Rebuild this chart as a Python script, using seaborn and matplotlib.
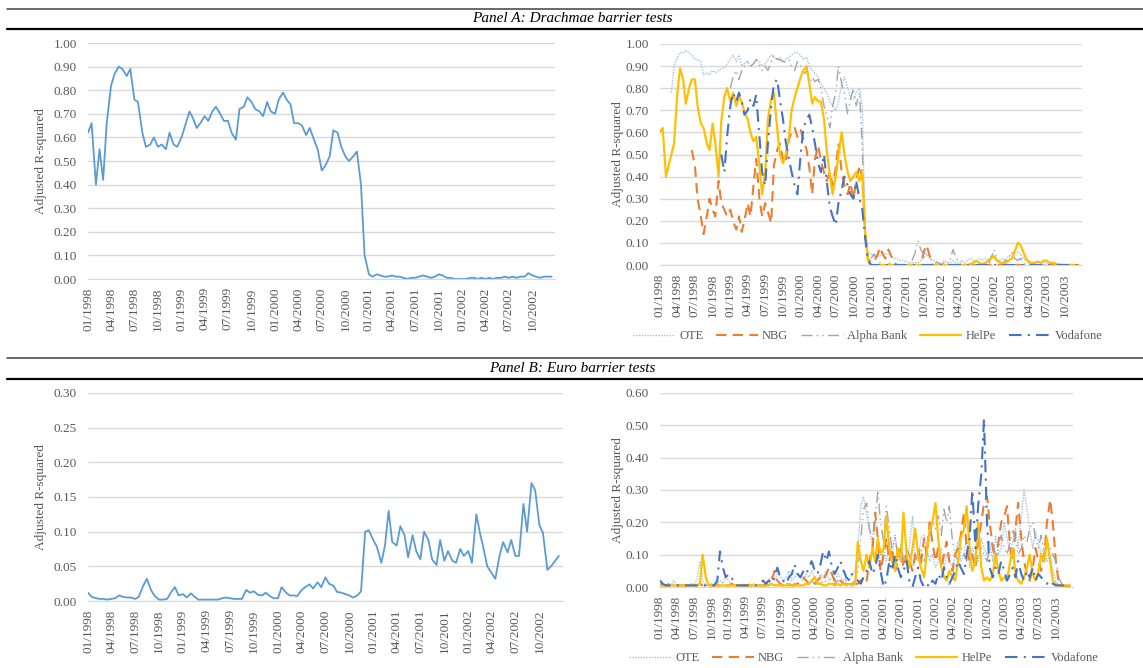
import numpy as np
import pandas as pd
import matplotlib as mpl
mpl.use("Agg")
import matplotlib.pyplot as plt
import matplotlib.dates as mdates
from matplotlib.lines import Line2D
import seaborn as sns

sns.set_style("white")
mpl.rcParams['font.family'] = ['Liberation Serif', 'DejaVu Serif']

nan = np.nan

# semi-monthly observation dates
dates_5y = pd.date_range('1998-01-01', periods=120, freq='SMS')
dates_6y = pd.date_range('1998-01-01', periods=144, freq='SMS')

# Panel A, left: all stocks, drachmae barrier
drachma_all = [0.62, 0.66, 0.40, 0.55, 0.42, 0.66, 0.82, 0.87, 0.90, 0.89,
               0.86, 0.89, 0.76, 0.75, 0.62, 0.56, 0.57, 0.60, 0.56, 0.57,
               0.55, 0.62, 0.57, 0.56, 0.60, 0.65, 0.71, 0.68, 0.64, 0.66,
               0.69, 0.67, 0.71, 0.73, 0.70, 0.67, 0.67, 0.62, 0.59, 0.72,
               0.73, 0.77, 0.75, 0.72, 0.71, 0.69, 0.75, 0.71, 0.70, 0.76,
               0.79, 0.76, 0.74, 0.66, 0.66, 0.65, 0.61, 0.64, 0.59, 0.55,
               0.46, 0.48, 0.52, 0.63, 0.62, 0.56, 0.52, 0.50, 0.52, 0.54,
               0.40, 0.10, 0.02, 0.01, 0.02, 0.015, 0.01, 0.01, 0.015, 0.01,
               0.01, 0.005, 0.0, 0.005, 0.005, 0.01, 0.015, 0.01, 0.005, 0.01,
               0.02, 0.015, 0.005, 0.005, 0.0, 0.0, 0.0, 0.0, 0.005, 0.005,
               0.0, 0.005, 0.0, 0.005, 0.0, 0.005, 0.005, 0.01, 0.005, 0.01,
               0.005, 0.01, 0.01, 0.025, 0.015, 0.01, 0.005, 0.01, 0.01, 0.01]

# Panel B, left: all stocks, euro barrier
euro_all = [0.012, 0.006, 0.004, 0.003, 0.003, 0.002, 0.003, 0.004, 0.008, 0.006,
            0.005, 0.005, 0.003, 0.006, 0.022, 0.032, 0.015, 0.007, 0.002, 0.002,
            0.003, 0.012, 0.020, 0.008, 0.010, 0.005, 0.011, 0.006, 0.002, 0.002,
            0.002, 0.002, 0.002, 0.002, 0.004, 0.005, 0.004, 0.003, 0.003, 0.003,
            0.016, 0.012, 0.014, 0.009, 0.008, 0.012, 0.007, 0.004, 0.004, 0.020,
            0.012, 0.008, 0.008, 0.007, 0.016, 0.020, 0.024, 0.018, 0.027, 0.020,
            0.034, 0.025, 0.022, 0.013, 0.012, 0.010, 0.008, 0.005, 0.008, 0.014,
            0.100, 0.102, 0.088, 0.078, 0.055, 0.080, 0.130, 0.085, 0.080, 0.108,
            0.095, 0.063, 0.095, 0.072, 0.060, 0.100, 0.088, 0.060, 0.052, 0.088,
            0.058, 0.072, 0.058, 0.055, 0.075, 0.065, 0.072, 0.055, 0.125, 0.098,
            0.075, 0.050, 0.040, 0.032, 0.065, 0.085, 0.070, 0.088, 0.065, 0.065,
            0.140, 0.100, 0.170, 0.160, 0.110, 0.098, 0.045, 0.050, 0.058, 0.065]

# Panel A, right: individual stocks
ote_a = [nan, nan, nan, nan, 0.78, 0.90, 0.94, 0.96, 0.96, 0.97, 0.96, 0.95,
         0.93, 0.93, 0.92, 0.86, 0.87, 0.86, 0.88, 0.87, 0.88, 0.89, 0.89, 0.91,
         0.93, 0.95, 0.92, 0.95, 0.90, 0.91, 0.92, 0.90, 0.91, 0.93, 0.92, 0.90,
         0.91, 0.93, 0.95, 0.94, 0.93, 0.94, 0.92, 0.93, 0.94, 0.95, 0.96, 0.96,
         0.95, 0.93, 0.94, 0.90, 0.88, 0.87, 0.85, 0.82, 0.80, 0.78, 0.74, 0.72,
         0.70, 0.74, 0.82, 0.85, 0.80, 0.76, 0.75, 0.78, 0.80, 0.72, 0.15, 0.06,
         0.05, 0.04, 0.05, 0.04, 0.06, 0.05, 0.05, 0.04, 0.03, 0.03, 0.02, 0.02,
         0.015, 0.01, 0.01, 0.01, 0.01, 0.02, 0.03, 0.05, 0.03, 0.02, 0.02, 0.01,
         0.01, 0.02, 0.01, 0.01, 0.02, 0.01, 0.01, 0.02, 0.01, 0.02, 0.03, 0.02,
         0.02, 0.03, 0.02, 0.03, 0.02, 0.04, 0.03, 0.02, 0.02, 0.03, 0.02, 0.04,
         0.05, 0.04, 0.06, 0.05, 0.03, 0.02, 0.02, 0.01, 0.01, 0.02, 0.01, 0.01,
         0.01, 0.005, 0.005, 0.01, 0.005, 0.005, 0.0, 0.0, 0.0, 0.0, 0.0, 0.0]
nbg_a = [nan, nan, nan, nan, nan, nan, nan, nan, nan, nan, nan, 0.52,
         0.45, 0.30, 0.22, 0.14, 0.22, 0.30, 0.25, 0.22, 0.38, 0.28, 0.25, 0.22,
         0.25, 0.20, 0.16, 0.22, 0.15, 0.20, 0.28, 0.22, 0.36, 0.48, 0.30, 0.22,
         0.28, 0.24, 0.19, 0.45, 0.52, 0.55, 0.48, 0.46, 0.57, 0.60, 0.62, 0.58,
         0.61, 0.57, 0.52, 0.44, 0.32, 0.48, 0.54, 0.47, 0.42, 0.38, 0.42, 0.36,
         0.44, 0.55, 0.42, 0.36, 0.32, 0.37, 0.30, 0.38, 0.45, 0.40, 0.15, 0.03,
         0.01, 0.02, 0.04, 0.08, 0.05, 0.03, 0.07, 0.04, 0.01, 0.0, 0.0, 0.0,
         0.0, 0.0, 0.0, 0.0, 0.0, 0.0, 0.06, 0.09, 0.04, 0.0, 0.0, 0.0,
         0.0, 0.0, 0.0, 0.0, 0.0, 0.0, 0.0, 0.0, 0.0, 0.0, 0.0, 0.0,
         0.0, 0.0, 0.0, 0.0, 0.0, 0.0, 0.0, 0.0, 0.0, 0.0, 0.0, 0.0,
         0.0, 0.0, 0.0, 0.0, 0.0, 0.0, 0.0, 0.0, 0.0, 0.0, 0.0, 0.0,
         0.0, 0.0, 0.0, 0.0, 0.0, 0.0, 0.0, 0.0, 0.0, 0.0, 0.0, 0.0]
alpha_a = [nan, nan, nan, nan, nan, nan, nan, nan, nan, nan, nan, nan,
           nan, nan, nan, nan, nan, nan, nan, nan, nan, nan, nan, nan,
           0.80, 0.85, 0.88, 0.84, 0.88, 0.90, 0.92, 0.90, 0.91, 0.93, 0.90, 0.88,
           0.90, 0.88, 0.92, 0.95, 0.93, 0.93, 0.92, 0.92, 0.93, 0.90, 0.88, 0.92,
           0.90, 0.86, 0.88, 0.82, 0.85, 0.83, 0.84, 0.80, 0.72, 0.68, 0.62, 0.72,
           0.78, 0.90, 0.82, 0.78, 0.68, 0.75, 0.80, 0.72, 0.78, 0.55, 0.12, 0.05,
           0.03, 0.05, 0.02, 0.01, 0.01, 0.0, 0.01, 0.0, 0.0, 0.0, 0.0, 0.0,
           0.0, 0.0, 0.02, 0.05, 0.11, 0.07, 0.05, 0.06, 0.03, 0.02, 0.01, 0.01,
           0.0, 0.01, 0.0, 0.02, 0.07, 0.04, 0.01, 0.0, 0.0, 0.0, 0.0, 0.0,
           0.0, 0.0, 0.0, 0.01, 0.0, 0.03, 0.07, 0.03, 0.01, 0.01, 0.02, 0.03,
           0.06, 0.03, 0.02, 0.03, 0.01, 0.0, 0.0, 0.0, 0.0, 0.0, 0.0, 0.0,
           0.0, 0.0, 0.0, 0.0, 0.0, 0.0, 0.0, 0.0, 0.0, 0.0, 0.0, 0.0]
helpe_a = [0.60, 0.62, 0.40, 0.45, 0.50, 0.55, 0.78, 0.89, 0.84, 0.73, 0.80, 0.84,
           0.84, 0.72, 0.64, 0.62, 0.55, 0.52, 0.64, 0.55, 0.40, 0.65, 0.76, 0.80,
           0.74, 0.78, 0.72, 0.76, 0.74, 0.69, 0.66, 0.60, 0.56, 0.58, 0.45, 0.32,
           0.42, 0.66, 0.75, 0.78, 0.62, 0.50, 0.46, 0.50, 0.58, 0.70, 0.76, 0.80,
           0.85, 0.88, 0.90, 0.82, 0.73, 0.76, 0.74, 0.74, 0.66, 0.52, 0.40, 0.32,
           0.40, 0.50, 0.60, 0.50, 0.42, 0.38, 0.40, 0.42, 0.38, 0.42, 0.15, 0.02,
           0.0, 0.0, 0.0, 0.0, 0.0, 0.0, 0.0, 0.0, 0.0, 0.0, 0.0, 0.0,
           0.0, 0.0, 0.0, 0.0, 0.0, 0.0, 0.0, 0.0, 0.0, 0.0, 0.0, 0.0,
           0.0, 0.0, 0.0, 0.0, 0.0, 0.0, 0.0, 0.0, 0.0, 0.0, 0.005, 0.01,
           0.02, 0.01, 0.005, 0.01, 0.02, 0.03, 0.04, 0.02, 0.01, 0.01, 0.01, 0.02,
           0.03, 0.06, 0.10, 0.09, 0.06, 0.03, 0.01, 0.01, 0.01, 0.015, 0.01, 0.02,
           0.02, 0.01, 0.01, 0.005, 0.0, 0.0, 0.0, 0.0, 0.0, 0.0, 0.0, 0.0]
vodafone_a = [nan, nan, nan, nan, nan, nan, nan, nan, nan, nan, nan, nan,
              nan, nan, nan, nan, nan, nan, nan, nan, nan, 0.50, 0.42, 0.58,
              0.72, 0.78, 0.74, 0.78, 0.74, 0.68, 0.70, 0.75, 0.72, 0.77, 0.58, 0.42,
              0.36, 0.55, 0.72, 0.82, 0.84, 0.75, 0.66, 0.56, 0.48, 0.42, 0.36, 0.32,
              0.50, 0.62, 0.66, 0.68, 0.62, 0.55, 0.46, 0.42, 0.50, 0.38, 0.26, 0.22,
              0.18, 0.28, 0.34, 0.40, 0.36, 0.32, 0.30, 0.38, 0.30, 0.26, 0.12, 0.02,
              0.0, 0.0, 0.0, 0.0, 0.0, 0.0, 0.0, 0.0, 0.0, 0.0, 0.0, 0.0,
              0.0, 0.0, 0.0, 0.0, 0.0, 0.0, 0.0, 0.0, 0.0, 0.0, 0.0, 0.0,
              0.0, 0.0, 0.0, 0.0, 0.0, 0.0, 0.0, 0.0, 0.0, 0.0, 0.0, 0.0,
              0.0, 0.0, 0.0, 0.0, 0.0, 0.0, 0.0, 0.0, 0.0, 0.0, 0.0, 0.0,
              0.0, 0.0, 0.0, 0.0, 0.0, 0.0, 0.0, 0.0, 0.0, 0.0, 0.0, 0.0,
              0.0, 0.0, 0.0, 0.0, 0.0, 0.0, 0.0, 0.0, 0.0, 0.0, 0.0, 0.0]

# Panel B, right: individual stocks
ote_b = [0.01, 0.005, 0.005, 0.01, 0.005, 0.02, 0.005, 0.005, 0.005, 0.01, 0.005, 0.01,
         0.01, 0.02, 0.08, 0.02, 0.005, 0.005, 0.01, 0.005, 0.01, 0.02, 0.01, 0.03,
         0.02, 0.01, 0.005, 0.005, 0.005, 0.01, 0.005, 0.01, 0.005, 0.01, 0.005, 0.01,
         0.005, 0.01, 0.02, 0.03, 0.02, 0.04, 0.03, 0.02, 0.03, 0.05, 0.02, 0.03,
         0.04, 0.03, 0.02, 0.04, 0.03, 0.05, 0.03, 0.02, 0.04, 0.03, 0.05, 0.02,
         0.03, 0.02, 0.04, 0.03, 0.02, 0.03, 0.02, 0.04, 0.05, 0.12, 0.25, 0.28,
         0.22, 0.18, 0.12, 0.08, 0.10, 0.06, 0.12, 0.08, 0.14, 0.10, 0.16, 0.08,
         0.12, 0.10, 0.08, 0.12, 0.22, 0.10, 0.08, 0.15, 0.16, 0.12, 0.08, 0.10,
         0.06, 0.08, 0.12, 0.06, 0.10, 0.08, 0.06, 0.10, 0.14, 0.08, 0.10, 0.15,
         0.06, 0.12, 0.10, 0.08, 0.15, 0.12, 0.10, 0.14, 0.08, 0.16, 0.10, 0.12,
         0.20, 0.15, 0.10, 0.14, 0.18, 0.12, 0.22, 0.30, 0.24, 0.18, 0.12, 0.17,
         0.14, 0.10, 0.12, 0.08, 0.10, 0.05, 0.02, 0.01, 0.005, 0.005, 0.005, 0.005]
nbg_b = [0.005, 0.005, 0.005, 0.005, 0.005, 0.005, 0.005, 0.005, 0.005, 0.005, 0.005, 0.005,
         0.005, 0.005, 0.01, 0.005, 0.005, 0.005, 0.005, 0.005, 0.005, 0.005, 0.005, 0.005,
         0.005, 0.01, 0.005, 0.005, 0.005, 0.005, 0.005, 0.005, 0.005, 0.005, 0.005, 0.005,
         0.005, 0.005, 0.01, 0.02, 0.05, 0.02, 0.01, 0.005, 0.005, 0.01, 0.005, 0.005,
         0.01, 0.02, 0.03, 0.02, 0.01, 0.02, 0.01, 0.02, 0.03, 0.02, 0.04, 0.06,
         0.04, 0.02, 0.01, 0.02, 0.01, 0.01, 0.005, 0.01, 0.01, 0.01, 0.02, 0.03,
         0.02, 0.08, 0.12, 0.23, 0.15, 0.05, 0.10, 0.15, 0.08, 0.12, 0.05, 0.08,
         0.12, 0.06, 0.10, 0.08, 0.05, 0.10, 0.12, 0.07, 0.15, 0.10, 0.20, 0.14,
         0.08, 0.12, 0.06, 0.10, 0.14, 0.08, 0.05, 0.10, 0.12, 0.16, 0.23, 0.12,
         0.08, 0.10, 0.06, 0.14, 0.20, 0.26, 0.28, 0.20, 0.12, 0.08, 0.14, 0.20,
         0.22, 0.25, 0.12, 0.08, 0.18, 0.26, 0.15, 0.08, 0.04, 0.02, 0.06, 0.12,
         0.08, 0.05, 0.10, 0.20, 0.27, 0.20, 0.08, 0.02, 0.005, 0.0, 0.0, 0.0]
alpha_b = [0.005, 0.005, 0.005, 0.01, 0.005, 0.005, 0.005, 0.005, 0.005, 0.005, 0.005, 0.005,
           0.005, 0.005, 0.01, 0.005, 0.005, 0.005, 0.005, 0.005, 0.01, 0.005, 0.005, 0.005,
           0.01, 0.005, 0.005, 0.005, 0.005, 0.005, 0.005, 0.005, 0.005, 0.005, 0.005, 0.005,
           0.005, 0.005, 0.005, 0.01, 0.01, 0.005, 0.01, 0.005, 0.01, 0.01, 0.005, 0.01,
           0.01, 0.005, 0.01, 0.01, 0.01, 0.02, 0.01, 0.01, 0.02, 0.01, 0.02, 0.01,
           0.01, 0.01, 0.02, 0.01, 0.01, 0.02, 0.01, 0.01, 0.02, 0.05, 0.15, 0.24,
           0.26, 0.18, 0.15, 0.20, 0.30, 0.20, 0.14, 0.25, 0.18, 0.12, 0.15, 0.10,
           0.13, 0.08, 0.12, 0.10, 0.06, 0.08, 0.10, 0.12, 0.08, 0.10, 0.15, 0.20,
           0.18, 0.22, 0.16, 0.24, 0.20, 0.25, 0.14, 0.10, 0.08, 0.12, 0.10, 0.08,
           0.12, 0.10, 0.08, 0.15, 0.12, 0.10, 0.08, 0.12, 0.14, 0.10, 0.12, 0.16,
           0.12, 0.10, 0.14, 0.18, 0.14, 0.10, 0.12, 0.16, 0.14, 0.18, 0.20, 0.15,
           0.12, 0.16, 0.10, 0.14, 0.12, 0.10, 0.08, 0.03, 0.01, 0.005, 0.005, 0.005]
helpe_b = [0.01, 0.005, 0.005, 0.005, 0.005, 0.005, 0.005, 0.005, 0.005, 0.005, 0.005, 0.005,
           0.005, 0.005, 0.01, 0.10, 0.03, 0.005, 0.005, 0.005, 0.005, 0.005, 0.005, 0.005,
           0.005, 0.005, 0.005, 0.005, 0.005, 0.005, 0.005, 0.005, 0.005, 0.005, 0.005, 0.005,
           0.005, 0.005, 0.005, 0.01, 0.005, 0.005, 0.005, 0.005, 0.005, 0.005, 0.005, 0.005,
           0.005, 0.005, 0.005, 0.01, 0.01, 0.02, 0.03, 0.01, 0.01, 0.005, 0.005, 0.01,
           0.01, 0.005, 0.01, 0.005, 0.01, 0.005, 0.01, 0.005, 0.01, 0.14, 0.08, 0.05,
           0.10, 0.06, 0.12, 0.08, 0.15, 0.10, 0.12, 0.22, 0.12, 0.08, 0.05, 0.12,
           0.08, 0.23, 0.10, 0.06, 0.12, 0.18, 0.10, 0.06, 0.03, 0.10, 0.18, 0.20,
           0.26, 0.15, 0.06, 0.03, 0.02, 0.05, 0.03, 0.02, 0.08, 0.15, 0.18, 0.25,
           0.12, 0.05, 0.08, 0.20, 0.06, 0.02, 0.03, 0.02, 0.04, 0.10, 0.05, 0.02,
           0.03, 0.02, 0.08, 0.12, 0.04, 0.02, 0.01, 0.03, 0.06, 0.10, 0.04, 0.02,
           0.05, 0.10, 0.08, 0.15, 0.08, 0.02, 0.01, 0.005, 0.005, 0.005, 0.005, 0.005]
vodafone_b = [0.02, 0.01, 0.005, 0.005, 0.005, 0.005, 0.005, 0.005, 0.005, 0.005, 0.005, 0.005,
              0.005, 0.005, 0.005, 0.005, 0.005, 0.005, 0.005, 0.005, 0.02, 0.11, 0.06, 0.03,
              0.04, 0.03, 0.01, 0.005, 0.005, 0.005, 0.005, 0.005, 0.005, 0.005, 0.005, 0.01,
              0.02, 0.01, 0.02, 0.01, 0.03, 0.06, 0.03, 0.02, 0.01, 0.03, 0.04, 0.07,
              0.04, 0.03, 0.05, 0.04, 0.06, 0.08, 0.05, 0.04, 0.07, 0.11, 0.08, 0.11,
              0.06, 0.04, 0.06, 0.08, 0.05, 0.03, 0.02, 0.04, 0.03, 0.02, 0.01, 0.03,
              0.05, 0.08, 0.04, 0.06, 0.10, 0.05, 0.0, 0.02, 0.08, 0.05, 0.10, 0.06,
              0.03, 0.05, 0.08, 0.02, 0.0, 0.03, 0.06, 0.02, 0.0, 0.01, 0.0, 0.02,
              0.01, 0.04, 0.02, 0.06, 0.03, 0.01, 0.03, 0.05, 0.08, 0.06, 0.04, 0.10,
              0.15, 0.30, 0.12, 0.25, 0.35, 0.52, 0.20, 0.06, 0.03, 0.06, 0.04, 0.08,
              0.05, 0.02, 0.04, 0.06, 0.03, 0.08, 0.04, 0.02, 0.05, 0.03, 0.06, 0.02,
              0.04, 0.03, 0.02, 0.01, 0.02, 0.01, 0.005, 0.005, 0.005, 0.005, 0.005, 0.005]

stock_names = ['OTE', 'NBG', 'Alpha Bank', 'HelPe', 'Vodafone']
stock_colors = ['#9DC3E6', '#ED7D31', '#A5A5A5', '#FFC000', '#4472C4']
stock_styles = [(0, (1, 1)), (0, (5, 3)), (0, (8, 3, 1, 3, 1, 3)), '-', (0, (6, 3, 1, 3))]
stock_widths = [1.0, 1.5, 1.0, 1.6, 1.5]

txt_grey = '#595959'
grid_grey = '#D9D9D9'
W, H = 1143, 668

fig = plt.figure(figsize=(W / 100, H / 100), dpi=100)


def box(x0, y0, x1, y1):
    # pixel box (top-left origin) -> figure fraction rect
    return [x0 / W, 1 - y1 / H, (x1 - x0) / W, (y1 - y0) / H]


def style_ax(ax, ymax, ystep, xend, last_tick, lab_x):
    ax.set_ylim(0, ymax)
    ax.set_yticks(np.arange(0, ymax + 1e-9, ystep))
    ax.yaxis.set_major_formatter(mpl.ticker.FormatStrFormatter('%.2f'))
    ax.set_xlim(pd.Timestamp('1998-01-01'), pd.Timestamp(xend))
    ax.set_xticks(pd.date_range('1998-01-01', last_tick, freq='3MS'))
    ax.xaxis.set_major_formatter(mdates.DateFormatter('%m/%Y'))
    ax.tick_params(axis='x', rotation=90, labelsize=9.5, labelcolor=txt_grey,
                   length=4, width=0.8, color=grid_grey, pad=2)
    ax.tick_params(axis='y', length=0, labelsize=9.5, labelcolor=txt_grey, pad=8)
    ax.grid(axis='y', color=grid_grey, lw=1)
    ax.grid(axis='x', visible=False)
    for s in ['top', 'right', 'left']:
        ax.spines[s].set_visible(False)
    ax.spines['bottom'].set_color(grid_grey)
    ax.set_xlabel('')
    ax.set_ylabel('Adjusted R-squared', color=txt_grey, fontsize=9.5)
    ax.yaxis.set_label_coords(lab_x, 0.5)


def stock_panel(ax, series, dates):
    for vals, c, ls, lw in zip(series, stock_colors, stock_styles, stock_widths):
        sns.lineplot(x=dates, y=vals, ax=ax, color=c, linestyle=ls, lw=lw,
                     estimator=None)


def stock_legend(cx, cy):
    handles = [Line2D([], [], color=c, linestyle=ls, lw=lw)
               for c, ls, lw in zip(stock_colors, stock_styles, stock_widths)]
    fig.legend(handles, stock_names, loc='center', bbox_to_anchor=(cx / W, 1 - cy / H),
               ncol=5, frameon=False, fontsize=9, labelcolor=txt_grey,
               handlelength=3.3, columnspacing=1.05, handletextpad=0.35)


def header(y_thin, y_text, y_thick, title):
    fig.add_artist(Line2D([7 / W, 1], [1 - y_thin / H] * 2, color='#404040', lw=1.1))
    fig.add_artist(Line2D([7 / W, 1], [1 - y_thick / H] * 2, color='black', lw=1.6))
    fig.text(572 / W, 1 - y_text / H, title, ha='center', va='center',
             style='italic', fontsize=11, color='black')


header(9, 18.5, 29, 'Panel A: Drachmae barrier tests')
header(358, 368.5, 379, 'Panel B: Euro barrier tests')

# Panel A
ax1 = fig.add_axes(box(88, 43, 555, 279))
sns.lineplot(x=dates_5y, y=drachma_all, ax=ax1, color='#5B9BD5', lw=1.3, estimator=None)
style_ax(ax1, 1.0, 0.1, '2002-12-28', '2002-10-01', -0.088)

ax2 = fig.add_axes(box(660, 44, 1082, 265))
stock_panel(ax2, [ote_a, nbg_a, alpha_a, helpe_a, vodafone_a], dates_6y)
style_ax(ax2, 1.0, 0.1, '2003-12-31', '2003-10-01', -0.085)
stock_legend(868, 336)

# Panel B
ax3 = fig.add_axes(box(88, 393, 563, 601))
sns.lineplot(x=dates_5y, y=euro_all, ax=ax3, color='#5B9BD5', lw=1.3, estimator=None)
style_ax(ax3, 0.30, 0.05, '2002-12-31', '2002-10-01', -0.086)

ax4 = fig.add_axes(box(660, 393, 1073, 587))
stock_panel(ax4, [ote_b, nbg_b, alpha_b, helpe_b, vodafone_b], dates_6y)
style_ax(ax4, 0.60, 0.1, '2003-12-31', '2003-10-01', -0.087)
stock_legend(864, 658)

fig.savefig('out.png', dpi=100)
